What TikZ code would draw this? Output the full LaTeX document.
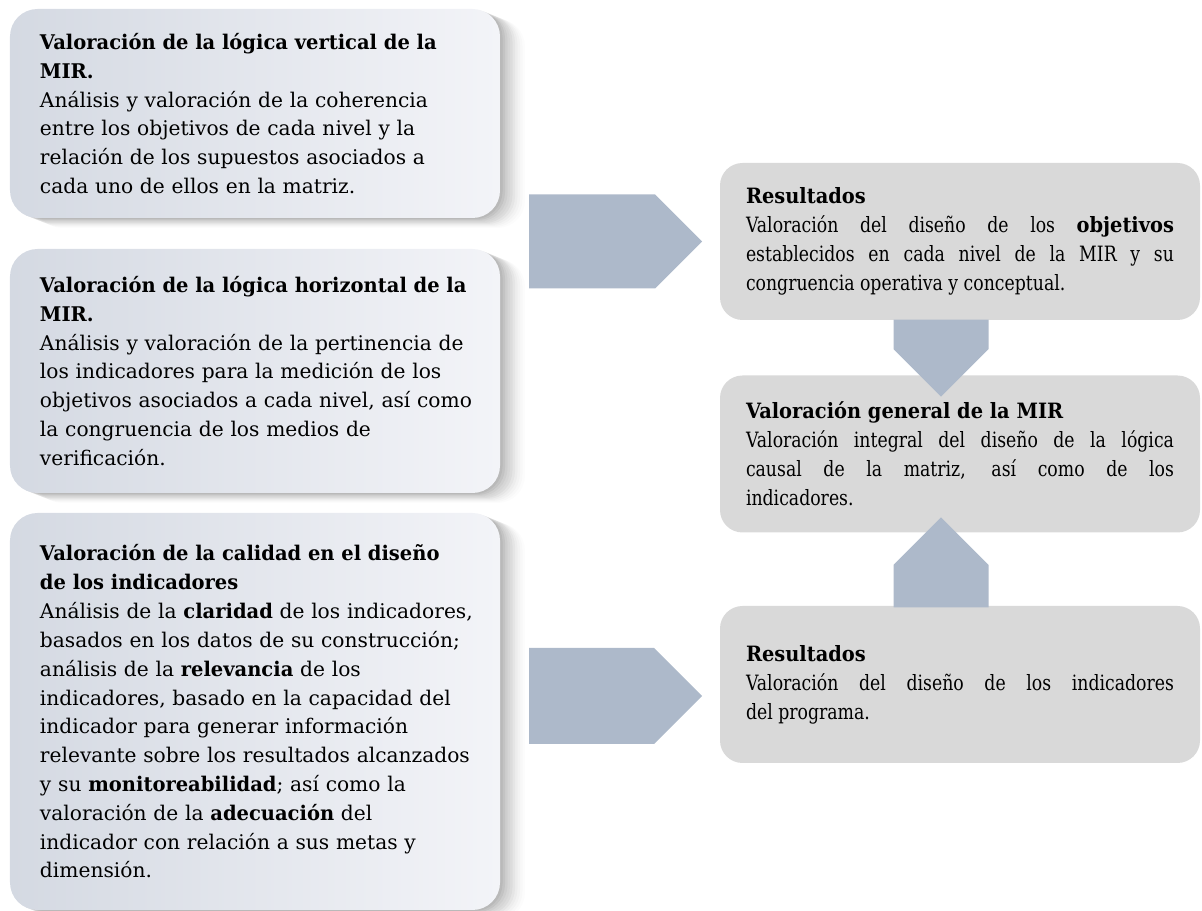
\documentclass[tikz,border=0pt]{standalone}
\usepackage{fontspec}
\setmainfont{DejaVu Serif}[BoldFeatures={FakeStretch=0.965}]
\newfontfamily\narrowfont{DejaVu Serif}[FakeStretch=0.82,BoldFeatures={FakeStretch=0.92}]
\usetikzlibrary{shapes.arrows,shadows}

\definecolor{boxleft}{RGB}{212,217,226}
\definecolor{boxright}{RGB}{243,244,248}
\definecolor{resgray}{RGB}{217,217,217}
\definecolor{arrowblue}{RGB}{173,185,202}

\tikzset{
  boxshadow/.style={
    drop shadow={shadow xshift=0.05cm,shadow yshift=-0.02cm,opacity=0.05,fill=black},
    drop shadow={shadow xshift=0.10cm,shadow yshift=-0.04cm,opacity=0.05,fill=black},
    drop shadow={shadow xshift=0.15cm,shadow yshift=-0.06cm,opacity=0.04,fill=black},
    drop shadow={shadow xshift=0.20cm,shadow yshift=-0.08cm,opacity=0.04,fill=black},
    drop shadow={shadow xshift=0.25cm,shadow yshift=-0.10cm,opacity=0.035,fill=black},
    drop shadow={shadow xshift=0.30cm,shadow yshift=-0.12cm,opacity=0.03,fill=black},
    drop shadow={shadow xshift=0.35cm,shadow yshift=-0.14cm,opacity=0.025,fill=black},
    drop shadow={shadow xshift=0.40cm,shadow yshift=-0.16cm,opacity=0.02,fill=black},
    drop shadow={shadow xshift=0.45cm,shadow yshift=-0.18cm,opacity=0.015,fill=black},
    drop shadow={shadow xshift=0.50cm,shadow yshift=-0.20cm,opacity=0.01,fill=black}}
}

\begin{document}
\begin{tikzpicture}[
    leftbox/.style={rectangle, rounded corners=0.55cm, text width=8.6cm,
      inner xsep=0.6cm, inner ysep=0pt, align=left, left color=boxleft,
      right color=boxright, font=\fontsize{11.5}{16.4}\selectfont, boxshadow,
      execute at begin node={\rightskip=-1.5cm plus 1fil\relax}},
    resbox/.style={rectangle, rounded corners=0.45cm, fill=resgray,
      text width=8.56cm, inner xsep=0.52cm, inner ysep=0pt, align=justify,
      minimum height=3.14cm, font=\narrowfont\fontsize{12}{16.5}\selectfont},
    blockarrow/.style={single arrow, single arrow head extend=0pt,
      single arrow tip angle=90, fill=arrowblue, inner sep=0pt}
  ]
      \useasboundingbox (0,0) rectangle (24.04,18.22);

      \node[leftbox,minimum height=4.18cm] (logvert) at (5.1,15.95)
           {{\bfseries Valoración de la lógica vertical de la\\ MIR.}\\
            Análisis y valoración de la coherencia\\
            entre los objetivos de cada nivel y la\\
            relación de los supuestos asociados a\\
            cada uno de ellos en la matriz.};
      \node[leftbox,minimum height=4.88cm] (loghoriz) at (5.1,10.8)
           {{\bfseries Valoración de la lógica horizontal de la\\ MIR.}\\
            Análisis y valoración de la pertinencia de\\
            los indicadores para la medición de los\\
            objetivos asociados a cada nivel, así como\\
            la congruencia de los medios de\\
            verificación.};
      \node[leftbox,minimum height=7.94cm] (calidad) at (5.1,3.99)
           {{\bfseries Valoración de la calidad en el diseño\\ de los indicadores}\\
            Análisis de la \textbf{claridad} de los indicadores,\\
            basados en los datos de su construcción;\\
            análisis de la \textbf{relevancia} de los\\
            indicadores, basado en la capacidad del\\
            indicador para generar información\\
            relevante sobre los resultados alcanzados\\
            y su \textbf{monitoreabilidad}; así como la\\
            valoración de la \textbf{adecuación} del\\
            indicador con relación a sus metas y\\
            dimensión.};

      \node[resbox] (resobj) at (19.2,13.39)
           {{\bfseries Resultados}\\
            Valoración del diseño de los \textbf{objetivos}\linebreak
            establecidos en cada nivel de la MIR y su\linebreak
            congruencia operativa y conceptual.};
      \node[resbox] (general) at (19.2,9.14)
           {{\bfseries Valoración general de la MIR}\\
            Valoración integral del diseño de la lógica\linebreak
            causal de la matriz, así como de los\linebreak
            indicadores.};
      \node[resbox] (resind) at (19.2,4.53)
           {{\bfseries Resultados}\\
            Valoración del diseño de los indicadores\linebreak
            del programa.};

      \node[blockarrow,minimum height=3.46cm,minimum width=1.88cm,anchor=tip]
           (arrobj) at ([xshift=-0.34cm]resobj.west) {};
      \node[blockarrow,minimum height=3.46cm,minimum width=1.92cm,anchor=tip]
           (arrind) at ([xshift=-0.34cm,yshift=-0.23cm]resind.west) {};
      \node[blockarrow,shape border rotate=270,minimum height=1.54cm,
           minimum width=1.9cm,anchor=tip]
           (arrdown) at ([xshift=-0.38cm,yshift=-0.44cm]general.north) {};
      \node[blockarrow,shape border rotate=90,minimum height=1.8cm,
           minimum width=1.9cm,anchor=tip]
           (arrup) at ([xshift=-0.38cm,yshift=0.32cm]general.south) {};

\end{tikzpicture}
\end{document}
